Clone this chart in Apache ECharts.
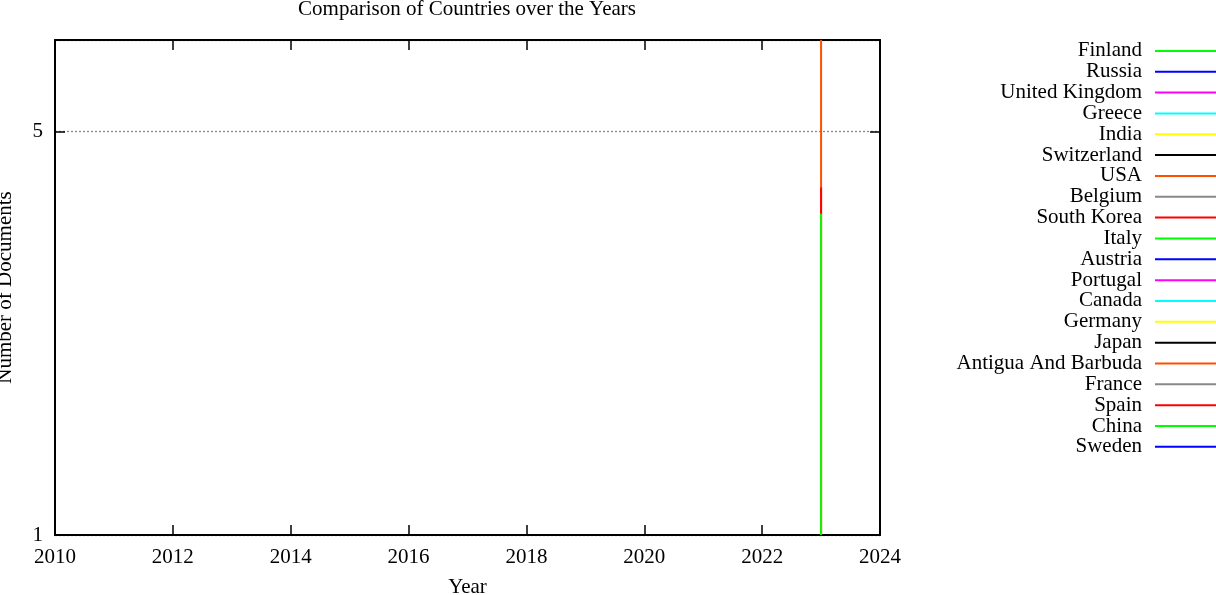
<!DOCTYPE html>
<html lang="en">
<head>
	<meta charset="UTF-8">
	<title>Comparison of Countries over the Years</title>
	<style>
		* {
			margin: 0;
			padding: 0;
		}

		#box {
			width: 1216px;
			height: 595px;
		}
	</style>
	<script src="https://cdn.jsdelivr.net/npm/echarts@6/dist/echarts.min.js"></script>
</head>
<body>
<div id="box"></div>
</body>
<script>
	// countries in legend order (also the drawing order)
	const countries = ['Finland', 'Russia', 'United Kingdom', 'Greece', 'India', 'Switzerland', 'USA', 'Belgium',
		'South Korea', 'Italy', 'Austria', 'Portugal', 'Canada', 'Germany', 'Japan', 'Antigua And Barbuda',
		'France', 'Spain', 'China', 'Sweden'];
	const colors = ['#00ff00', '#0000ff', '#ff00ff', '#00ffff', '#ffff00', '#000000', '#ff5000', '#888888',
		'#ff0000', '#00ff00', '#0000ff', '#ff00ff', '#00ffff', '#ffff00', '#000000', '#ff5000',
		'#888888', '#ff0000', '#00ff00', '#0000ff'];
	// every country only has documents in 2023
	const years = [2023];
	// number of documents at 2023, low end and high end of each vertical segment
	const docsLow = [1, 1, 1, 1, 1, 1, 1, 1, 1, 1, 1, 1, 1, 1, 1, 1, 1, 1, 1, 1];
	const docsHigh = [1, 1, 1, 1, 1, 1, 1, 1, 1, 1, 1, 1, 1, 1, 1, 7.2, 1, 4, 3.6, 1];
	const xTicks = [2010, 2012, 2014, 2016, 2018, 2020, 2022, 2024];
	const yTicks = [1, 5];

	const font = 'Liberation Serif';
	const fs = 21;
	const myEcharts = echarts.init(document.getElementById('box'), null, {renderer: 'canvas'});

	const series = countries.map(function (name, i) {
		return {
			name: name,
			type: 'line',
			xAxisIndex: 0,
			yAxisIndex: 0,
			showSymbol: false,
			symbol: 'none',
			animation: false,
			lineStyle: {color: colors[i], width: 2},
			itemStyle: {color: colors[i]},
			data: [[years[0], docsLow[i]], [years[0], docsHigh[i]]],
		};
	});

	const xBase = {
		type: 'value',
		min: xTicks[0],
		max: xTicks[xTicks.length - 1],
		interval: 2,
		axisLine: {show: true, lineStyle: {color: '#000', width: 2}},
		axisTick: {show: true, inside: true, length: 10, lineStyle: {color: '#000', width: 1.5}},
		splitLine: {show: false},
	};
	const yBase = {
		type: 'log',
		logBase: 5,
		min: yTicks[0],
		max: 7.2,
		axisLine: {show: true, lineStyle: {color: '#000', width: 2}},
		axisTick: {show: true, inside: true, length: 10, lineStyle: {color: '#000', width: 1.5}},
	};

	myEcharts.setOption({
		backgroundColor: '#fff',
		animation: false,
		title: {
			text: 'Comparison of Countries over the Years',
			left: 467,
			textAlign: 'center',
			top: -1,
			padding: 0,
			textStyle: {fontFamily: font, fontSize: fs, fontWeight: 'normal', color: '#000'},
		},
		legend: {
			orient: 'vertical',
			right: 0,
			top: 40.4,
			padding: 0,
			align: 'right',
			icon: 'rect',
			itemWidth: 61,
			itemHeight: 2,
			itemGap: -0.16,
			textStyle: {
				fontFamily: font, fontSize: fs, color: '#000',
				width: 190, align: 'right', lineHeight: 20, padding: [0, 8, 0, 0],
			},
			data: countries,
		},
		grid: {left: 55, right: 336, top: 40, bottom: 60, outerBoundsMode: 'none', containLabel: false},
		xAxis: [
			Object.assign({}, xBase, {
				position: 'bottom',
				name: 'Year',
				nameLocation: 'middle',
				nameGap: 42,
				nameTextStyle: {fontFamily: font, fontSize: fs, color: '#000'},
				axisLabel: {
					fontFamily: font, fontSize: fs, color: '#000', margin: 12,
					formatter: function (v) {
						return String(v);
					},
				},
			}),
			Object.assign({}, xBase, {position: 'top', axisLabel: {show: false}}),
		],
		yAxis: [
			Object.assign({}, yBase, {
				position: 'left',
				name: 'Number of Documents',
				nameLocation: 'middle',
				nameGap: 39,
				nameTextStyle: {fontFamily: font, fontSize: fs, color: '#000'},
				axisLabel: {
					fontFamily: font, fontSize: fs, color: '#000', margin: 12,
					formatter: function (v) {
						return yTicks.indexOf(Math.round(v * 1000) / 1000) >= 0 ? String(Math.round(v)) : '';
					},
				},
				splitLine: {show: true, lineStyle: {color: '#888', type: [2, 2], width: 1.3}},
			}),
			Object.assign({}, yBase, {position: 'right', axisLabel: {show: false}, splitLine: {show: false}}),
		],
		series: series,
	});
</script>
</html>
